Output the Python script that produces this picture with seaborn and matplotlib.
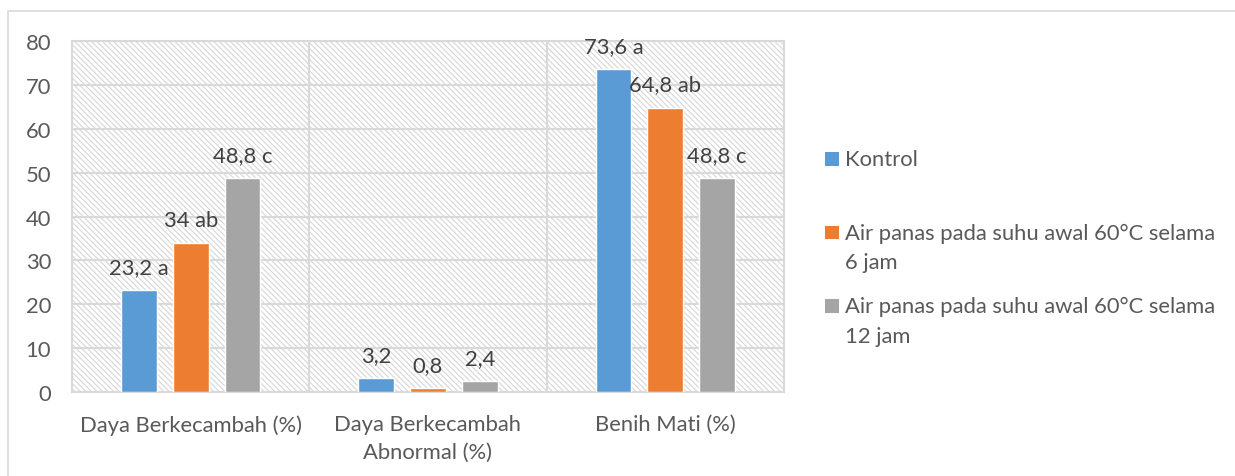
import matplotlib
matplotlib.use("Agg")
import matplotlib.pyplot as plt
from matplotlib.patches import Rectangle
from matplotlib.legend_handler import HandlerPatch
import seaborn as sns
import pandas as pd

categories = ["Daya Berkecambah (%)", "Daya Berkecambah\nAbnormal (%)", "Benih Mati (%)"]
series = ["Kontrol",
          "Air panas pada suhu awal 60°C selama\n6 jam",
          "Air panas pada suhu awal 60°C selama\n12 jam"]
kontrol = [23.2, 3.2, 73.6]
panas_6 = [34.0, 0.8, 64.8]
panas_12 = [48.8, 2.4, 48.8]
labels_kontrol = ["23,2 a", "3,2", "73,6 a"]
labels_6 = ["34 ab", "0,8", "64,8 ab"]
labels_12 = ["48,8 c", "2,4", "48,8 c"]
colors = ["#5B9BD5", "#ED7D31", "#A5A5A5"]
yticks = [0, 10, 20, 30, 40, 50, 60, 70, 80]

rows = []
for s, vals in zip(series, [kontrol, panas_6, panas_12]):
    for c, v in zip(categories, vals):
        rows.append({"kategori": c, "perlakuan": s, "nilai": v})
df = pd.DataFrame(rows)

sns.set_theme(style="white")
plt.rcParams['font.family'] = ['Lato', 'DejaVu Sans']
plt.rcParams['hatch.linewidth'] = 0.8

GRID = "#d9d9d9"
TXT = "#595959"
FS = 15.8

fig = plt.figure(figsize=(12.35, 4.77), dpi=100)
ax = fig.add_axes([72/1235, 1 - 393/477, (784-72)/1235, (393-42)/477])

# figure frame
fig.add_artist(Rectangle((8/1235, -0.1), 1.2, 1 - 12/477 + 0.1, transform=fig.transFigure,
                         facecolor="none", edgecolor=GRID, linewidth=1.2))

# hatched plot area
ax.add_patch(Rectangle((0, 0), 1, 1, transform=ax.transAxes, facecolor="white",
                       edgecolor="#d6d6d6", hatch="\\\\\\\\\\\\", linewidth=0, zorder=0))

sns.barplot(data=df, x="kategori", y="nilai", hue="perlakuan", order=categories,
            hue_order=series, palette=colors, saturation=1, width=0.655, gap=0.31,
            legend=False, ax=ax, zorder=3)

ax.set_xlim(-0.5, 2.5)
ax.set_ylim(0, 80)
ax.set_yticks(yticks)
ax.set_xlabel("")
ax.set_ylabel("")
ax.set_xticks(range(3))
ax.set_xticklabels(categories, color=TXT, fontsize=FS, linespacing=1.5)
ax.set_yticklabels([str(t) for t in yticks], color=TXT, fontsize=FS)
ax.tick_params(axis="x", length=0, pad=16)
ax.tick_params(axis="y", length=0, pad=15)

ax.set_xticks([0.5, 1.5], minor=True)
ax.grid(axis="y", which="major", color=GRID, linewidth=1.5, zorder=1)
ax.grid(axis="x", which="minor", color=GRID, linewidth=1.5, zorder=1)
ax.grid(axis="x", which="major", visible=False)
ax.set_axisbelow(True)
for sp in ax.spines.values():
    sp.set_visible(True)
    sp.set_color(GRID)
    sp.set_linewidth(1.5)

for cont, labs in zip(ax.containers, [labels_kontrol, labels_6, labels_12]):
    ax.bar_label(cont, labels=labs, padding=9.5, color="#404040", fontsize=FS)

def square(legend, orig_handle, xdescent, ydescent, width, height, fontsize):
    size = 0.62 * fontsize
    return Rectangle((-xdescent, -ydescent + height / 2 - size / 2 + 0.70 * fontsize), size, size)

handles = [Rectangle((0, 0), 1, 1, facecolor=c, edgecolor="none") for c in colors]
leg_labels = ["Kontrol\n "] + series[1:]
leg = fig.legend(handles, leg_labels, loc="upper left", bbox_to_anchor=(825/1235, 1 - 150/477),
                 frameon=False, fontsize=FS, handlelength=0.62, handleheight=0.62,
                 handletextpad=0.3, labelspacing=1.07, borderpad=0, borderaxespad=0,
                 handler_map={Rectangle: HandlerPatch(patch_func=square)})
for t in leg.get_texts():
    t.set_color(TXT)
    t.set_linespacing(1.62)

fig.savefig("out.png", dpi=100)
